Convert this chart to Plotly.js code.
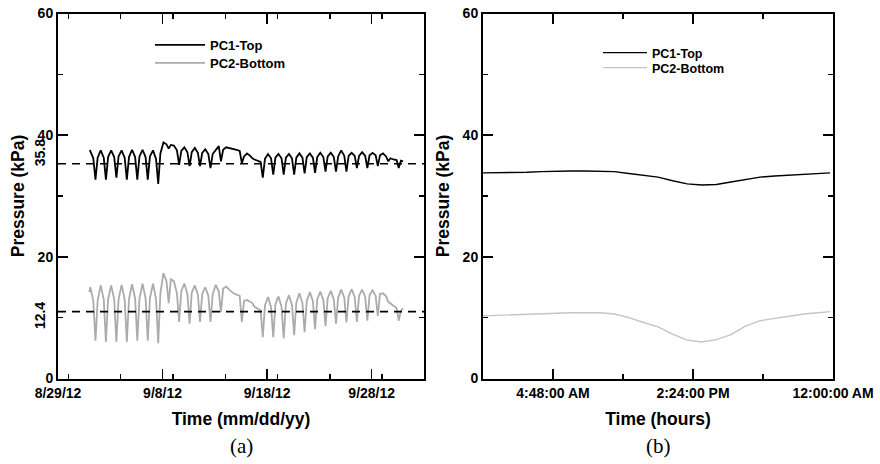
<!DOCTYPE html>
<html>
<head>
<meta charset="utf-8">
<script src="https://cdn.plot.ly/plotly-3.0.1.min.js"></script>
<style>
  html, body { margin: 0; padding: 0; background: #fff; }
  #chart { width: 880px; height: 464px; }
</style>
</head>
<body>
<div id="chart"></div>
<script>
// ---------------- DATA ----------------
// (a) daily samples, 2012-09-01 .. 2012-09-30, at these hours of each day
const seriesStart = '2012-09-01';
const sampleHours = [2, 9, 14, 19];
const pc1Edges = [37.3, 35.7];   // value at 9/1 00:00 and 10/1 00:00
const pc2Edges = [14.2, 11.5];
const pc1Daily = [
  [37.4, 36.2, 32.7, 36.3], [37.5, 36.3, 32.7, 36.4], [37.5, 36.4, 33.0, 36.5],
  [37.5, 36.3, 32.7, 36.4], [37.6, 36.4, 32.7, 36.5], [37.6, 36.4, 32.7, 36.5],
  [37.5, 36.1, 32.0, 37.0], [38.8, 38.5, 37.8, 38.4], [38.3, 37.5, 35.1, 37.4],
  [38.0, 37.2, 34.9, 37.2], [37.9, 37.1, 34.9, 37.1], [37.7, 36.9, 34.6, 36.9],
  [37.6, 38.2, 35.7, 37.6], [38.0, 37.9, 37.8, 37.7], [37.6, 37.4, 35.4, 36.5],
  [37.0, 36.6, 36.2, 36.0], [35.8, 35.6, 33.0, 36.1], [36.9, 36.2, 33.5, 36.3],
  [36.9, 36.2, 33.5, 36.3], [36.9, 36.2, 33.5, 36.3], [37.0, 36.3, 33.7, 36.4],
  [37.0, 36.3, 33.8, 36.4], [37.1, 36.4, 34.0, 36.5], [37.1, 36.4, 34.0, 36.5],
  [37.5, 36.6, 34.0, 36.6], [37.1, 36.6, 34.6, 36.6], [37.2, 36.6, 34.6, 36.7],
  [37.1, 36.7, 34.9, 36.7], [37.0, 36.5, 35.7, 36.2], [36.0, 35.9, 34.6, 35.8]
];
const pc2Daily = [
  [15.0, 12.8, 6.2, 12.8], [15.3, 13.0, 6.0, 13.0], [15.3, 13.0, 6.0, 13.0],
  [15.4, 13.0, 6.0, 13.1], [15.5, 13.2, 6.2, 13.2], [15.6, 13.2, 6.2, 13.2],
  [15.6, 13.1, 5.8, 14.0], [17.3, 16.0, 12.4, 16.3], [16.0, 14.0, 9.3, 14.4],
  [15.6, 13.9, 9.0, 14.1], [15.3, 13.8, 9.3, 13.9], [15.0, 13.6, 9.3, 13.8],
  [15.4, 14.3, 10.9, 14.8], [15.1, 14.6, 14.3, 14.0], [13.8, 13.6, 9.3, 12.8],
  [12.9, 12.6, 12.4, 11.8], [11.5, 11.2, 6.8, 12.0], [13.4, 11.7, 6.8, 12.2],
  [13.5, 11.8, 6.6, 12.3], [13.7, 12.1, 7.1, 12.5], [14.0, 12.4, 7.6, 12.8],
  [14.2, 12.7, 8.1, 13.0], [14.3, 12.9, 8.6, 13.2], [14.4, 13.0, 9.0, 13.3],
  [14.6, 13.3, 9.2, 13.5], [14.7, 13.4, 9.3, 13.6], [14.6, 13.4, 9.5, 13.7],
  [14.5, 13.6, 10.3, 13.9], [14.0, 13.5, 12.6, 12.3], [12.0, 11.6, 9.5, 11.2]
];
const meanLevels = [35.3, 11.0];
const meanLabels = ['35.8', '12.4'];
const leftRange = ['2012-08-29', '2012-10-03'];

// (b) one day, hours
const dayHours = [0, 1, 2, 3, 4, 5, 6, 7, 8, 9, 10, 11, 12, 13, 14, 15, 16, 17, 18, 19, 20, 21, 22, 23, 23.8];
const pc1Day = [33.8, 33.8, 33.9, 33.9, 34.0, 34.1, 34.1, 34.1, 34.1, 34.0, 33.7, 33.4, 33.1, 32.5, 32.0, 31.8, 31.9, 32.3, 32.7, 33.1, 33.3, 33.4, 33.5, 33.7, 33.8];
const pc2Day = [10.3, 10.4, 10.5, 10.6, 10.7, 10.7, 10.8, 10.8, 10.8, 10.6, 10.0, 9.2, 8.5, 7.3, 6.3, 6.0, 6.4, 7.2, 8.6, 9.5, 9.9, 10.3, 10.6, 10.8, 11.0];
const hourTickVals = [4.8, 14.4, 24];
const hourTickText = ['4:48:00 AM', '2:24:00 PM', '12:00:00 AM'];

// ---------------- BUILD ----------------
const DAY = 86400000, HOUR = 3600000;
const t0 = Date.UTC(2012, 8, 1);
function fmt(ms) { return new Date(ms).toISOString().replace('T', ' ').slice(0, 19); }
function buildSeries(daily, edges) {
  const x = [fmt(t0)], y = [edges[0]];
  daily.forEach((row, i) => row.forEach((v, j) => {
    x.push(fmt(t0 + i * DAY + sampleHours[j] * HOUR)); y.push(v);
  }));
  x.push(fmt(t0 + daily.length * DAY)); y.push(edges[1]);
  return {x, y};
}
const s1 = buildSeries(pc1Daily, pc1Edges);
const s2 = buildSeries(pc2Daily, pc2Edges);

const F = 'Liberation Sans';
const mkFont = (size) => ({family: F, size: size, weight: 700, color: '#000'});

const traces = [
  {x: s1.x, y: s1.y, mode: 'lines', name: 'PC1-Top', line: {color: '#000', width: 1.8}, xaxis: 'x', yaxis: 'y', legend: 'legend'},
  {x: s2.x, y: s2.y, mode: 'lines', name: 'PC2-Bottom', line: {color: '#ababab', width: 1.8}, xaxis: 'x', yaxis: 'y', legend: 'legend2'}
];
// mean-level dashed lines, each on its own overlaying axis that carries its label
meanLevels.forEach((v, i) => traces.push({
  x: leftRange, y: [v, v], mode: 'lines', showlegend: false, hoverinfo: 'skip',
  line: {color: '#000', width: 1.7, dash: '8px,6px'}, xaxis: 'x', yaxis: i === 0 ? 'y3' : 'y4'
}));
traces.push(
  {x: dayHours, y: pc1Day, mode: 'lines', name: 'PC1-Top', line: {color: '#000', width: 1.4}, xaxis: 'x2', yaxis: 'y2', legend: 'legend3'},
  {x: dayHours, y: pc2Day, mode: 'lines', name: 'PC2-Bottom', line: {color: '#c4c4c4', width: 1.4}, xaxis: 'x2', yaxis: 'y2', legend: 'legend4'}
);

const yDom = [(464 - 378.5) / 464, (464 - 13.5) / 464];
function axisBase() {
  return {
    showline: true, linewidth: 2, linecolor: '#000', mirror: 'ticks',
    ticks: 'inside', ticklen: 10, tickwidth: 1.5, tickcolor: '#000',
    showgrid: false, zeroline: false, tickfont: mkFont(14)
  };
}
const minorTick = () => ({ticks: 'inside', ticklen: 5, tickwidth: 1.5, tickcolor: '#000', showgrid: false});
function legendAt(xPx, topPx, size, w) {
  return {
    x: xPx / 880, y: (464 - topPx) / 464, xanchor: 'left', yanchor: 'top',
    bgcolor: 'rgba(0,0,0,0)', borderwidth: 0, itemwidth: w, font: mkFont(size)
  };
}
function meanAxis(i, shift) {
  return {
    overlaying: 'y', anchor: 'free', position: 48 / 880, side: 'left',
    range: [0, 60], tickvals: [meanLevels[i]], ticktext: [meanLabels[i]], tickangle: -90,
    ticks: '', showline: false, showgrid: false, zeroline: false,
    ticklabelshift: shift, tickfont: mkFont(14)
  };
}

const layout = {
  width: 880, height: 464,
  margin: {l: 0, r: 0, t: 0, b: 0, pad: 0},
  paper_bgcolor: '#fff', plot_bgcolor: '#fff',
  showlegend: true,
  xaxis: Object.assign(axisBase(), {
    domain: [58 / 880, 424 / 880], anchor: 'y', type: 'date', range: leftRange,
    tickmode: 'linear', tick0: '2012-08-29', dtick: 10 * DAY, tickformat: '%-m/%-d/%y',
    ticklabelstandoff: 1,
    minor: Object.assign({dtick: 5 * DAY}, minorTick()),
    title: {text: 'Time (mm/dd/yy)', font: mkFont(17.5), standoff: 12}
  }),
  yaxis: Object.assign(axisBase(), {
    domain: yDom, anchor: 'x', range: [0, 60], tickvals: [0, 20, 40, 60],
    minor: Object.assign({dtick: 10}, minorTick()),
    title: {text: 'Pressure (kPa)', font: mkFont(17.5), standoff: 8}
  }),
  yaxis3: meanAxis(0, -9),
  yaxis4: meanAxis(1, 6),
  xaxis2: Object.assign(axisBase(), {
    domain: [483 / 880, 833 / 880], anchor: 'y2', range: [0, 24],
    tickvals: hourTickVals, ticktext: hourTickText,
    ticklabelstandoff: 1,
    minor: Object.assign({tickmode: 'linear', tick0: 0, dtick: 4.8}, minorTick()),
    title: {text: 'Time (hours)', font: mkFont(17.5), standoff: 12}
  }),
  yaxis2: Object.assign(axisBase(), {
    domain: yDom, anchor: 'x2', range: [0, 60], tickvals: [0, 20, 40, 60],
    minor: Object.assign({dtick: 10}, minorTick()),
    title: {text: 'Pressure (kPa)', font: mkFont(17.5), standoff: 8}
  }),
  legend: legendAt(150, 30, 13, 50),
  legend2: legendAt(150, 48, 13, 50),
  legend3: legendAt(598, 38, 12.5, 44),
  legend4: legendAt(598, 53, 12.5, 44),
  annotations: [
    {text: '(a)', xref: 'paper', yref: 'paper', x: 241 / 880, y: (464 - 446) / 464, xanchor: 'center', yanchor: 'middle', showarrow: false, font: {family: 'Liberation Serif', size: 21, color: '#000'}},
    {text: '(b)', xref: 'paper', yref: 'paper', x: 658 / 880, y: (464 - 446) / 464, xanchor: 'center', yanchor: 'middle', showarrow: false, font: {family: 'Liberation Serif', size: 21, color: '#000'}}
  ]
};

Plotly.newPlot('chart', traces, layout, {displayModeBar: false, staticPlot: true});
</script>
</body>
</html>
